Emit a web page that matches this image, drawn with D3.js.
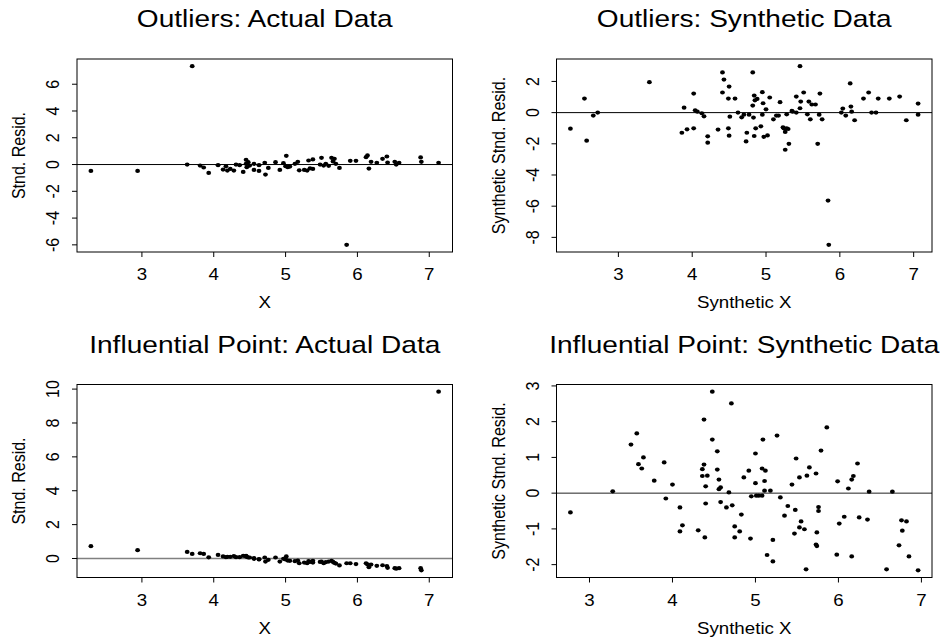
<!DOCTYPE html>
<html>
<head>
<meta charset="utf-8">
<script src="https://cdn.jsdelivr.net/npm/d3@7"></script>
<style>
  body { margin: 0; background: #fff; }
  text { font-family: "Liberation Sans", Arial, Helvetica, sans-serif; fill: #000; }
</style>
</head>
<body>
<svg id="chart" width="943" height="641"></svg>
<script>
// actual data: same X for the outlier and the influential-point fits
const xActual = [2.29, 2.94, 3.63, 3.70, 3.81, 3.86, 3.93, 4.06, 4.13, 4.17, 4.19, 4.23, 4.28, 4.31, 4.36, 4.41,
  4.45, 4.45, 4.46, 4.48, 4.50, 4.56, 4.56, 4.63, 4.63, 4.71, 4.72, 4.76, 4.86, 4.92, 4.97, 5.01, 5.00, 5.03,
  5.06, 5.13, 5.17, 5.19, 5.26, 5.30, 5.32, 5.34, 5.38, 5.38, 5.50, 5.48, 5.53, 5.56, 5.60, 5.64, 5.66, 5.68,
  5.70, 5.75, 5.85, 5.90, 5.98, 6.12, 6.14, 6.16, 6.19, 6.27, 6.35, 6.41, 6.42, 6.52, 6.54, 6.58, 6.88, 6.89, 7.13];
const residOutActual = [-0.48, -0.48, 0.00, 7.35, -0.08, -0.22, -0.63, -0.05, -0.38, -0.13, -0.45, -0.33, -0.45, 0.00, -0.05, -0.55,
  0.35, 0.05, -0.20, 0.18, -0.08, 0.05, -0.40, -0.05, -0.48, 0.13, -0.75, -0.25, 0.18, -0.40, 0.10, 0.65, -0.12, -0.20,
  -0.15, 0.05, 0.20, -0.43, -0.40, -0.45, 0.30, -0.28, 0.38, -0.33, 0.50, 0.00, -0.08, 0.05, -0.10, 0.50, 0.23, 0.43,
  0.05, -0.25, -6.00, 0.28, 0.28, 0.55, 0.68, -0.30, 0.20, 0.13, 0.43, 0.60, 0.15, 0.20, 0.00, 0.13, 0.53, 0.20, 0.13];
const residInflActual = [0.73, 0.49, 0.39, 0.27, 0.31, 0.27, 0.07, 0.21, 0.12, 0.08, 0.10, 0.10, 0.14, 0.08, 0.08, 0.16,
  0.12, 0.16, 0.10, 0.06, 0.06, -0.02, 0.02, -0.04, -0.06, 0.06, -0.18, -0.08, 0.06, -0.18, -0.02, 0.12, -0.06, -0.12,
  -0.14, -0.16, -0.12, -0.28, -0.24, -0.28, -0.16, -0.20, -0.14, -0.24, -0.18, -0.20, -0.28, -0.22, -0.18, -0.14, -0.20, -0.26,
  -0.30, -0.41, -0.28, -0.28, -0.33, -0.28, -0.35, -0.51, -0.36, -0.43, -0.40, -0.45, -0.55, -0.57, -0.60, -0.57, -0.57, -0.70, 9.85];

// synthetic data, outliers case
const xOutSynth = [2.35, 2.54, 2.57, 2.66, 2.72, 3.42, 3.86, 3.89, 3.93, 4.02, 4.02, 4.04, 4.07, 4.13, 4.16, 4.21,
  4.21, 4.35, 4.41, 4.41, 4.43, 4.49, 4.50, 4.49, 4.50, 4.51, 4.58, 4.62, 4.67, 4.70, 4.74, 4.73, 4.77, 4.82,
  4.82, 4.83, 4.84, 4.84, 4.86, 4.85, 4.88, 4.93, 4.95, 4.95, 4.96, 4.97, 5.00, 5.02, 5.05, 5.10, 5.14, 5.17,
  5.19, 5.23, 5.24, 5.26, 5.26, 5.28, 5.28, 5.30, 5.31, 5.35, 5.36, 5.41, 5.41, 5.46, 5.46, 5.47, 5.51, 5.56,
  5.58, 5.60, 5.62, 5.67, 5.70, 5.72, 5.73, 5.76, 5.84, 5.85, 6.02, 6.04, 6.08, 6.14, 6.15, 6.16, 6.20, 6.32,
  6.39, 6.43, 6.49, 6.52, 6.67, 6.81, 6.90, 7.06, 7.06];
const residOutSynth = [-1.03, 0.90, -1.80, -0.19, 0.00, 1.95, -1.29, 0.32, -1.07, 1.22, -1.01, 0.15, 0.06, -0.04, -0.24, -1.52,
  -1.93, -1.09, 2.58, 1.29, 2.12, 0.90, 1.67, -1.01, -1.48, -0.26, 0.90, 0.00, -0.30, -0.13, -1.29, -1.85, -0.13, 2.58,
  0.45, -0.32, 1.09, -1.50, -1.01, 0.79, 0.88, -0.88, -0.13, 1.31, 0.60, -1.55, 0.21, -1.46, 0.97, -0.43, -0.19, -0.19,
  0.67, -0.94, -1.01, -1.24, -2.38, -0.11, -1.01, -1.05, -2.00, 0.11, 0.06, 1.03, 0.00, 2.98, 0.28, 0.71, 1.29, -0.11,
  0.71, -0.43, 0.52, 0.52, -2.00, -0.13, 1.22, -0.43, -5.64, -8.48, 0.00, 0.26, -0.19, 1.87, 0.39, 0.06, -0.49, 0.90,
  1.29, 0.00, 0.00, 0.90, 0.90, 1.03, -0.49, 0.58, -0.13];

// synthetic data, influential point case
const xInflSynth = [2.77, 3.28, 3.50, 3.57, 3.59, 3.63, 3.65, 3.78, 3.90, 3.92, 4.00, 4.09, 4.09, 4.12, 4.31, 4.36,
  4.36, 4.38, 4.38, 4.39, 4.40, 4.40, 4.42, 4.48, 4.48, 4.54, 4.54, 4.56, 4.56, 4.58, 4.58, 4.65, 4.68, 4.71,
  4.72, 4.75, 4.75, 4.81, 4.83, 4.86, 4.92, 4.94, 4.95, 5.00, 5.00, 5.01, 5.04, 5.08, 5.08, 5.09, 5.11, 5.12,
  5.11, 5.14, 5.18, 5.21, 5.21, 5.26, 5.30, 5.35, 5.39, 5.44, 5.47, 5.48, 5.49, 5.53, 5.53, 5.55, 5.59, 5.61,
  5.62, 5.65, 5.73, 5.74, 5.73, 5.74, 5.76, 5.76, 5.79, 5.86, 5.99, 5.98, 6.01, 6.07, 6.12, 6.16, 6.16, 6.18,
  6.23, 6.25, 6.35, 6.37, 6.58, 6.65, 6.73, 6.76, 6.77, 6.82, 6.85, 6.96];
const residInflSynth = [-0.54, 0.05, 1.36, 1.67, 0.81, 0.69, 1.00, 0.35, 0.86, -0.15, 0.24, -0.40, -1.07, -0.90, -1.04, 0.48,
  0.67, 0.80, 2.06, -1.24, 0.19, -0.29, 0.49, 2.84, 1.50, 0.66, 1.17, 0.38, 0.11, 0.16, -0.25, -0.40, 0.02, 2.51,
  -0.34, -0.93, -1.24, -1.07, -0.60, 0.44, 0.63, -1.27, -0.09, 1.11, 0.28, -0.07, -0.07, 0.69, -0.07, 1.50, 0.34, 0.63,
  0.07, -1.73, 0.07, -1.31, -1.91, 1.61, -0.12, -0.63, -0.36, 0.24, -1.13, -0.47, 0.97, 0.44, -0.96, -0.79, -1.01, -2.13,
  0.49, 0.72, 0.55, -1.10, -1.44, -1.48, -0.39, -0.50, 1.19, 1.84, 0.33, -1.72, -0.85, -0.66, 0.13, 0.38, -1.77, 0.48,
  0.83, -0.68, -0.74, 0.04, -2.13, 0.04, -1.46, -0.76, -1.05, -0.79, -1.77, -2.16];

const xTicks = [3, 4, 5, 6, 7];
const yTicksOutActual = [-6, -4, -2, 0, 2, 4, 6];
const yTicksOutSynth = [-8, -6, -4, -2, 0, 2];
const yTicksInflActual = [0, 2, 4, 6, 8, 10];
const yTicksInflSynth = [-2, -1, 0, 1, 2, 3];

const titles = ['Outliers: Actual Data', 'Outliers: Synthetic Data',
  'Influential Point: Actual Data', 'Influential Point: Synthetic Data'];
const xLabels = ['X', 'Synthetic X', 'X', 'Synthetic X'];
const yLabels = ['Stnd. Resid.', 'Synthetic Stnd. Resid.', 'Stnd. Resid.', 'Synthetic Stnd. Resid.'];

const panels = [
  { x: xActual, y: residOutActual, yTicks: yTicksOutActual, left: 77, top: 59, zeroColor: '#000', zeroWidth: 1 },
  { x: xOutSynth, y: residOutSynth, yTicks: yTicksOutSynth, left: 556.5, top: 59, zeroColor: '#000', zeroWidth: 1 },
  { x: xActual, y: residInflActual, yTicks: yTicksInflActual, left: 77, top: 384.5, zeroColor: '#808080', zeroWidth: 1.6 },
  { x: xInflSynth, y: residInflSynth, yTicks: yTicksInflSynth, left: 556.5, top: 384.5, zeroColor: '#222', zeroWidth: 1 }
];
panels.forEach((p, i) => { p.title = titles[i]; p.xLabel = xLabels[i]; p.yLabel = yLabels[i]; });

const boxW = 375.5, boxH = 193;
const stretch = 1.17; // the picture is a bit wider than tall
const svg = d3.select('#chart');

// R style range: data extent plus 4% on each side
function padded(ext) {
  const d = (ext[1] - ext[0]) * 0.04;
  return [ext[0] - d, ext[1] + d];
}

function label(g, x, y, str, size, rotate) {
  g.append('g')
    .attr('transform', `translate(${x},${y}) scale(${stretch},1)` + (rotate ? ' rotate(-90)' : ''))
    .append('text')
    .attr('text-anchor', 'middle')
    .style('font-size', size + 'px')
    .text(str);
}

function drawPanel(p) {
  const g = svg.append('g').attr('transform', `translate(${p.left},${p.top})`);
  const x = d3.scaleLinear().domain(padded(d3.extent(p.x))).range([0, boxW]);
  const y = d3.scaleLinear().domain(padded(d3.extent(p.y))).range([boxH, 0]);

  // ticks
  g.selectAll('.xt').data(xTicks).enter().append('line')
    .attr('x1', d => x(d)).attr('x2', d => x(d))
    .attr('y1', boxH).attr('y2', boxH + 5)
    .attr('stroke', '#000');
  g.selectAll('.yt').data(p.yTicks).enter().append('line')
    .attr('x1', -5).attr('x2', 0)
    .attr('y1', d => y(d)).attr('y2', d => y(d))
    .attr('stroke', '#000');

  xTicks.forEach(t => label(g, x(t), boxH + 28, String(t), 16, false));
  p.yTicks.forEach(t => label(g, -18, y(t), String(t), 16, true));

  // zero line
  g.append('line')
    .attr('x1', 0).attr('x2', boxW)
    .attr('y1', y(0)).attr('y2', y(0))
    .attr('stroke', p.zeroColor).attr('stroke-width', p.zeroWidth);

  g.selectAll('.pt').data(p.x).enter().append('ellipse')
    .attr('cx', (d, i) => x(d))
    .attr('cy', (d, i) => y(p.y[i]))
    .attr('rx', 2.4).attr('ry', 2.1)
    .attr('fill', '#000');

  g.append('rect')
    .attr('x', 0).attr('y', 0).attr('width', boxW).attr('height', boxH)
    .attr('fill', 'none').attr('stroke', '#000');

  label(g, boxW / 2, -32, p.title, 24, false);
  label(g, boxW / 2, boxH + 56, p.xLabel, 16, false);
  label(g, -52, boxH / 2, p.yLabel, 16, true);
}

panels.forEach(drawPanel);
</script>
</body>
</html>
